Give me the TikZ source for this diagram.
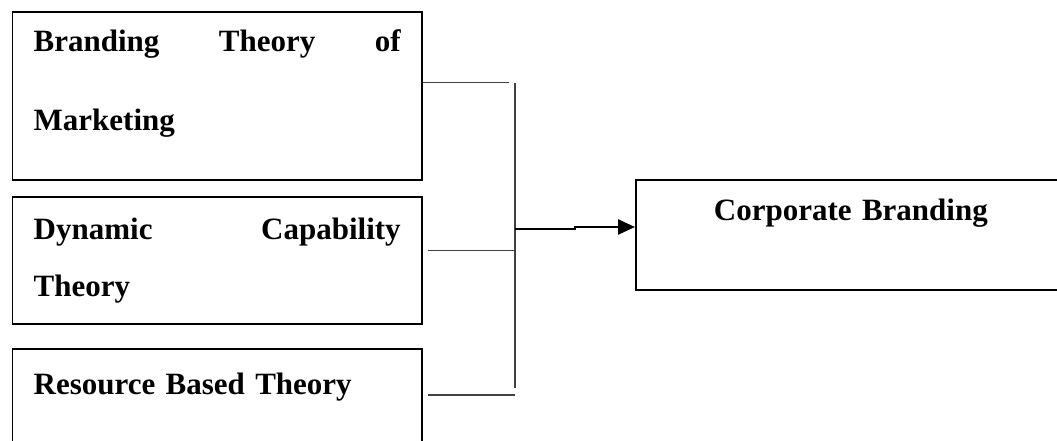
\documentclass[tikz,border=0pt]{standalone}
\usepackage{fontspec}
\setmainfont{Liberation Serif}
\usetikzlibrary{arrows.meta}
\begin{document}
\begin{tikzpicture}[x=1pt, y=-1pt,
    every node/.style={draw, line width=1.8pt, anchor=north west, inner xsep=21.3pt, inner ysep=0pt, font=\bfseries\fontsize{31}{79.3}\selectfont},
    link/.style={line width=1.3pt, black!75},
    flow/.style={line width=2.5pt, -{Triangle[length=17pt,width=15pt]}}]
    \useasboundingbox (0,0) rectangle (1057,441);
    \clip (0,0) rectangle (1057,441);
    \node[text width=367pt, align=left, text height=39.2pt, text depth=128.3pt] (brand) at (11.5,11.5) {Branding\hfill Theory\hfill of\\Marketing};
    \node[text width=367pt, align=left, text height=42.6pt, text depth=84.7pt, font=\bfseries\fontsize{31}{57}\selectfont] (dyn) at (11.5,196) {Dynamic\hfill Capability\\Theory};
    \node[text width=367pt, align=left, text height=46.1pt, text depth=70pt] (res) at (11.5,347.7) {Resource Based Theory};
    \node[text width=387.4pt, align=center, text height=41pt, text depth=68.7pt] (corp) at (635,179) {Corporate Branding};
    \coordinate (j1) at (509,82.7);
    \coordinate (bt) at (515,83);
    \coordinate (bb) at (515,388);
    \coordinate (j2) at (515,250.7);
    \coordinate (j3) at (515,395);
    \coordinate (hub) at (515,229);
    \draw[link] (brand.east |- j1) -- (j1);
    \draw[link] (bt) -- (bb);
    \draw[link, shorten <=5.5pt] (dyn.east |- j2) -- (j2);
    \draw[link, shorten <=5.5pt] (res.east |- j3) -- (j3);
    \draw[flow] (hub) -- ++(60,0) -- ++(0,-2) -- ([yshift=2pt]hub -| corp.west);
\end{tikzpicture}
\end{document}
